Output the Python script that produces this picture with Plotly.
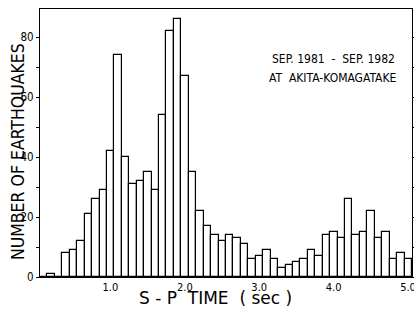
import plotly.graph_objects as go

# S-P time bins (sec), 0.1 s wide, lower edges 0.0 .. 4.9
bin_starts = [round(i * 0.1, 1) for i in range(50)]
counts = [0, 1, 0, 8, 9, 12, 21, 26, 29, 42,
          74, 40, 31, 32, 35, 29, 54, 82, 86, 67,
          35, 22, 17, 14, 12, 14, 13, 11, 6, 7,
          9, 6, 3, 4, 5, 6, 9, 7, 14, 15,
          13, 26, 14, 15, 22, 13, 15, 6, 8, 6]
bin_width = 0.1

x_tick_vals = [1.0, 2.0, 3.0, 4.0, 5.0]
x_tick_text = ["1.0", "2.0", "3.0", "4.0", "5.0"]
y_tick_vals = [0, 10, 20, 30, 40, 50, 60, 70, 80]
y_tick_text = ["0", "", "20", "", "40", "", "60", "", "80"]

centers = [s + bin_width / 2 for s in bin_starts]

fig = go.Figure()
fig.add_trace(go.Bar(
    x=centers, y=counts, width=bin_width,
    marker=dict(color="white", line=dict(color="black", width=1.2)),
    hoverinfo="x+y",
))

font_family = "DejaVu Sans Condensed, DejaVu Sans, sans-serif"

# plot area: x 40..412 px, y 9..277 px (page body margin removed below)
fig.update_layout(
    width=414, height=310,
    margin=dict(l=40, r=2, t=9, b=33, autoexpand=False),
    paper_bgcolor="white", plot_bgcolor="white",
    showlegend=False, bargap=0,
    font=dict(family=font_family, color="black", size=12),
    xaxis=dict(
        range=[0, 5.0], showgrid=False, zeroline=False, automargin=False,
        showline=True, linecolor="black", linewidth=1.2, mirror=True,
        tickvals=x_tick_vals, ticktext=x_tick_text, ticks="",
        tickfont=dict(size=11), ticklabelshift=-4, ticklabelstandoff=0,
        ticklabeloverflow="allow",
    ),
    yaxis=dict(
        range=[0, 89.5], showgrid=False, zeroline=False, automargin=False,
        showline=True, linecolor="black", linewidth=1.2, mirror="ticks",
        tickvals=y_tick_vals, ticktext=y_tick_text,
        ticks="outside", ticklen=3, tickcolor="black",
        tickfont=dict(size=11.5), ticklabeloverflow="allow",
    ),
    annotations=[
        dict(x=-0.0605, y=0.468, xref="paper", yref="paper", xanchor="center", yanchor="middle",
             text="NUMBER OF EARTHQUAKES", textangle=-90, showarrow=False, font=dict(size=17.5)),
        dict(x=0.473, y=-0.0784, xref="paper", yref="paper", xanchor="center", yanchor="middle",
             text="S - P  TIME  ( sec )", showarrow=False,
             font=dict(size=17, family="DejaVu Sans, sans-serif")),
        dict(x=0.96, y=0.815, xref="paper", yref="paper", xanchor="right", yanchor="middle",
             text="SEP. 1981  -  SEP. 1982", showarrow=False, font=dict(size=12)),
        dict(x=0.965, y=0.7425, xref="paper", yref="paper", xanchor="right", yanchor="middle",
             text="AT  AKITA-KOMAGATAKE", showarrow=False, font=dict(size=12)),
    ],
)

fig.write_html("out.html", config={"displayModeBar": False},
               post_script="document.body.style.margin='0';")
